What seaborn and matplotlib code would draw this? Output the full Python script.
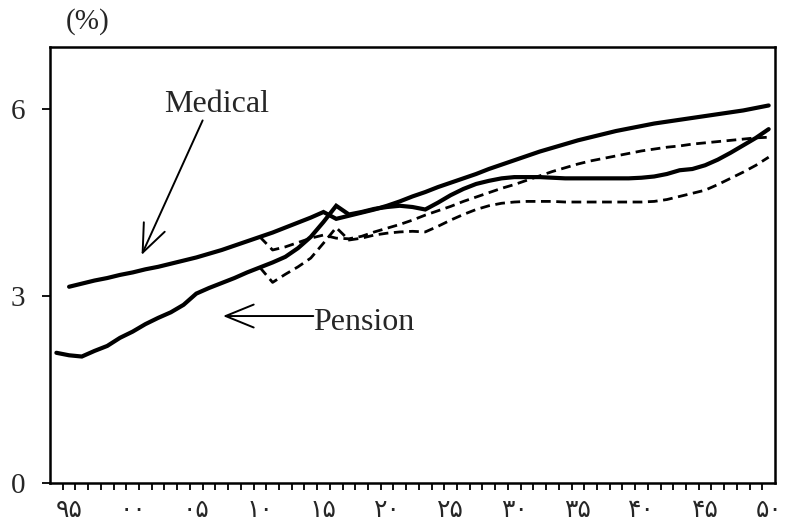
import matplotlib

matplotlib.use("Agg")
import matplotlib.pyplot as plt  # noqa: E402
import numpy as np  # noqa: E402
import seaborn as sns  # noqa: E402

# values (% share)
MED_YEARS = list(range(1995, 2051))
MEDICAL = [
    3.15, 3.20, 3.25, 3.29, 3.34, 3.38, 3.43, 3.47, 3.52, 3.57,
    3.62, 3.68, 3.74, 3.81, 3.88, 3.95, 4.02, 4.10, 4.18, 4.26,
    4.35, 4.24, 4.29, 4.34, 4.39, 4.45, 4.52, 4.60, 4.67, 4.75,
    4.82, 4.89, 4.96, 5.04, 5.11, 5.18, 5.25, 5.32, 5.38, 5.44,
    5.50, 5.55, 5.60, 5.65, 5.69, 5.73, 5.77, 5.80, 5.83, 5.86,
    5.89, 5.92, 5.95, 5.98, 6.02, 6.06,
]
PEN_YEARS = list(range(1994, 2051))
PENSION = [
    2.09, 2.05, 2.03, 2.12, 2.20, 2.33, 2.43, 2.55, 2.65, 2.74,
    2.86, 3.04, 3.13, 3.21, 3.29, 3.38, 3.46, 3.54, 3.63, 3.77,
    3.95, 4.19, 4.45, 4.31, 4.35, 4.40, 4.43, 4.45, 4.43, 4.39,
    4.50, 4.62, 4.72, 4.80, 4.85, 4.89, 4.91, 4.91, 4.91, 4.90,
    4.89, 4.89, 4.89, 4.89, 4.89, 4.89, 4.90, 4.92, 4.96, 5.02,
    5.04, 5.10, 5.19, 5.30, 5.42, 5.54, 5.68,
]
ALT_YEARS = list(range(2010, 2051))
MEDICAL_ALT = [
    3.95, 3.74, 3.79, 3.86, 3.93, 3.98, 3.93, 3.92, 3.96, 4.03,
    4.09, 4.15, 4.22, 4.30, 4.37, 4.44, 4.52, 4.59, 4.66, 4.73,
    4.79, 4.86, 4.93, 5.00, 5.06, 5.12, 5.17, 5.21, 5.25, 5.29,
    5.33, 5.36, 5.39, 5.41, 5.44, 5.46, 5.48, 5.50, 5.52, 5.54,
    5.55,
]
PENSION_ALT = [
    3.46, 3.22, 3.35, 3.47, 3.61, 3.85, 4.10, 3.90, 3.93, 3.98,
    4.01, 4.03, 4.04, 4.03, 4.12, 4.22, 4.31, 4.39, 4.45, 4.49,
    4.51, 4.52, 4.52, 4.52, 4.51, 4.51, 4.51, 4.51, 4.51, 4.51,
    4.51, 4.52, 4.55, 4.60, 4.65, 4.70, 4.79, 4.89, 4.99, 5.10,
    5.23,
]
TICK_YEARS = list(range(1995, 2051, 5))
TICK_LABELS = ["۹۵", "۰۰", "۰۵", "۱۰", "۱۵", "۲۰", "۲۵", "۳۰", "۳۵", "۴۰", "۴۵", "۵۰"]

sns.set_style("white")
plt.rcParams["font.family"] = ["Liberation Serif", "DejaVu Sans"]

fig = plt.figure(figsize=(7.85, 5.27), dpi=100)
ax = fig.add_axes([0.0637, 0.0835, 0.9236, 0.8275])

SOLID = dict(color="black", linewidth=3.0, solid_joinstyle="miter")
DASH = dict(color="black", linewidth=2.0, linestyle=(0, (3.5, 2.0)))
sns.lineplot(x=MED_YEARS, y=MEDICAL, ax=ax, **SOLID)
sns.lineplot(x=PEN_YEARS, y=PENSION, ax=ax, **SOLID)
sns.lineplot(x=ALT_YEARS, y=MEDICAL_ALT, ax=ax, **DASH)
sns.lineplot(x=ALT_YEARS, y=PENSION_ALT, ax=ax, **DASH)

ax.set_xlim(1993.5, 2050.5)
ax.set_ylim(0, 7)

# year ticks sit between categories, labels every 5 years
ax.set_xticks(TICK_YEARS)
ax.set_xticklabels(TICK_LABELS, fontsize=18)
ax.set_xticks(np.arange(1994.5, 2050.5, 1.0), minor=True)
ax.tick_params(axis="x", which="major", length=0, pad=12)
ax.tick_params(axis="x", which="minor", direction="out", length=5, width=1.3,
               color="black", bottom=True)
ax.set_yticks([0, 3, 6])
ax.set_yticklabels(["0", "3", "6"], fontsize=21)
ax.tick_params(axis="y", direction="out", length=6, width=1.3, color="black",
               pad=12, left=True)

for side in ax.spines.values():
    side.set_visible(True)
    side.set_color("black")
    side.set_linewidth(1.8)
ax.grid(False)
ax.set_xlabel("")
ax.set_ylabel("")

arrow = dict(arrowstyle="->,head_length=1.35,head_width=0.55", color="black",
             lw=1.4, shrinkA=0, shrinkB=0, mutation_scale=15)
ax.annotate("", xy=(2000.7, 3.66), xytext=(2005.5, 5.82), arrowprops=arrow)
ax.annotate("", xy=(2007.1, 2.68), xytext=(2014.2, 2.68), arrowprops=arrow)
ax.text(2006.6, 5.95, "Medical", fontsize=23, ha="center", va="baseline")
ax.text(2014.2, 2.45, "Pension", fontsize=23, ha="left", va="baseline")

fig.text(0.111, 0.96, "(%)", fontsize=21, ha="center", va="center")

fig.savefig("out.png", dpi=100)
